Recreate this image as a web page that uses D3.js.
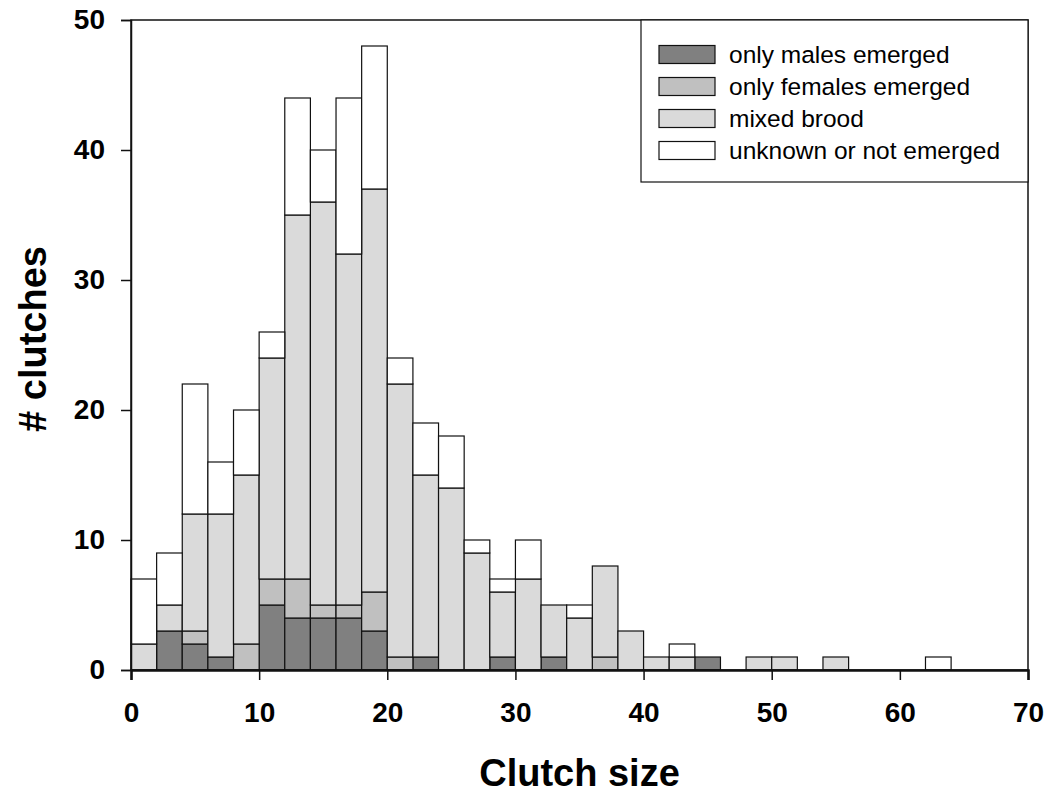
<!DOCTYPE html>
<html>
<head>
<meta charset="utf-8">
<script src="https://cdn.jsdelivr.net/npm/d3@7"></script>
<style>
  body { margin: 0; background: #fff; }
  svg { display: block; font-family: "Liberation Sans", Arial, sans-serif; }
</style>
</head>
<body>
<svg id="chart" width="1051" height="796"></svg>
<script>
// Bin lower edges (clutch size, bin width 2)
const binStarts = [0,2,4,6,8,10,12,14,16,18,20,22,24,26,28,30,32,34,36,38,40,42,44,46,48,50,52,54,56,58,60,62,64,66,68];
const onlyMales   = [0,3,2,1,0,5,4,4,4,3,0,1,0,0,1,0,1,0,0,0,0,0,1,0,0,0,0,0,0,0,0,0,0,0,0];
const onlyFemales = [0,0,1,0,2,2,3,1,1,3,1,0,0,0,0,0,0,0,1,0,0,0,0,0,0,0,0,0,0,0,0,0,0,0,0];
const mixedBrood  = [2,2,9,11,13,17,28,31,27,31,21,14,14,9,5,7,4,4,7,3,1,1,0,0,1,1,0,1,0,0,0,0,0,0,0];
const unknownNot  = [5,4,10,4,5,2,9,4,12,11,2,4,4,1,1,3,0,1,0,0,0,1,0,0,0,0,0,0,0,0,0,1,0,0,0];
const seriesNames = ["only males emerged","only females emerged","mixed brood","unknown or not emerged"];
const seriesColors = ["#808080","#c0c0c0","#dadada","#ffffff"];
const xTicks = [0,10,20,30,40,50,60,70];
const yTicks = [0,10,20,30,40,50];
const binWidth = 2;

const svg = d3.select("#chart");
const W = 1051, H = 796;
const margin = {left: 131, right: W - 1028, top: 20, bottom: H - 670};
const x = d3.scaleLinear().domain([0,70]).range([margin.left, W - margin.right]);
const y = d3.scaleLinear().domain([0,50]).range([H - margin.bottom, margin.top]);

const table = binStarts.map((b,i) => ({
  bin: b, m: onlyMales[i], f: onlyFemales[i], x: mixedBrood[i], u: unknownNot[i]
}));
const keys = ["m","f","x","u"];
const stacked = d3.stack().keys(keys)(table);

const g = svg.append("g");
stacked.forEach((layer, li) => {
  g.append("g").selectAll("rect")
    .data(layer.filter(d => d[1] > d[0]))
    .join("rect")
    .attr("x", d => x(d.data.bin))
    .attr("width", d => x(d.data.bin + binWidth) - x(d.data.bin))
    .attr("y", d => y(d[1]))
    .attr("height", d => y(d[0]) - y(d[1]))
    .attr("fill", seriesColors[li])
    .attr("stroke", "#111")
    .attr("stroke-width", 1.2);
});

// frame
svg.append("rect")
  .attr("x", x(0)).attr("y", y(50))
  .attr("width", x(70) - x(0)).attr("height", y(0) - y(50))
  .attr("fill", "none").attr("stroke", "#111").attr("stroke-width", 1.5);

// axes
const xAxis = svg.append("g").attr("transform", `translate(0,${y(0)})`)
  .call(d3.axisBottom(x).tickValues(xTicks).tickSize(10).tickPadding(22).tickFormat(d3.format("d")));
const yAxis = svg.append("g").attr("transform", `translate(${x(0)},0)`)
  .call(d3.axisLeft(y).tickValues(yTicks).tickSize(10).tickPadding(16).tickFormat(d3.format("d")));
[xAxis, yAxis].forEach(a => {
  a.attr("font-size", null).attr("font-family", null);
  a.selectAll("path.domain").attr("stroke", "#111").attr("stroke-width", 2.5);
  a.selectAll(".tick line").attr("stroke", "#111").attr("stroke-width", 1.5);
  a.selectAll(".tick text").attr("fill", "#000")
    .attr("font-size", 28).attr("font-weight", "bold")
    .attr("font-family", "'Liberation Sans', Arial, sans-serif");
});
yAxis.selectAll("path.domain").attr("stroke-width", 1.5);

// axis titles
svg.append("text")
  .attr("x", (x(0) + x(70)) / 2).attr("y", 786)
  .attr("text-anchor", "middle")
  .attr("font-size", 38).attr("font-weight", "bold")
  .text("Clutch size");
svg.append("text")
  .attr("transform", `translate(46,339) rotate(-90)`)
  .attr("text-anchor", "middle")
  .attr("font-size", 38).attr("font-weight", "bold")
  .text("# clutches");

// legend
const lg = svg.append("g");
lg.append("rect")
  .attr("x", 641).attr("y", y(50))
  .attr("width", x(70) - 641).attr("height", 162)
  .attr("fill", "#fff").attr("stroke", "#111").attr("stroke-width", 1.2);
seriesNames.forEach((name, i) => {
  const cy = 54.5 + i * 32;
  lg.append("rect").attr("x", 659).attr("y", cy - 9).attr("width", 56).attr("height", 18)
    .attr("fill", seriesColors[i]).attr("stroke", "#111").attr("stroke-width", 1.2);
  lg.append("text").attr("x", 729).attr("y", cy + 8.5)
    .attr("font-size", 24.5).attr("fill", "#000").text(name);
});
</script>
</body>
</html>
